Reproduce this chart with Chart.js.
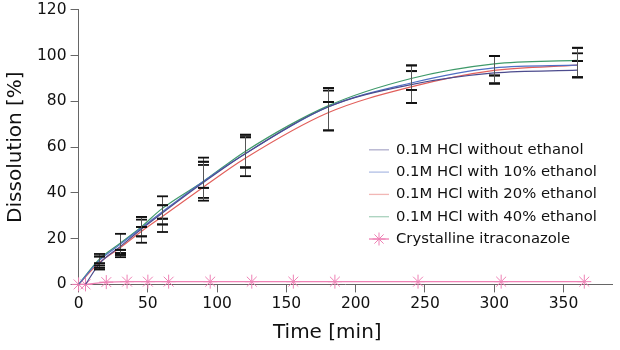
<!DOCTYPE html>
<html>
<head>
<meta charset="utf-8">
<script src="https://cdn.jsdelivr.net/npm/chart.js@4/dist/chart.umd.min.js"></script>
<style>
  html, body { margin: 0; padding: 0; background: #fff; }
  #wrap { width: 620px; height: 350px; }
</style>
</head>
<body>
<div id="wrap"><canvas id="c" width="620" height="350"></canvas></div>
<script>
// ---- data ----
const seriesLabels = [
  "0.1M HCl without ethanol",
  "0.1M HCl with 10% ethanol",
  "0.1M HCl with 20% ethanol",
  "0.1M HCl with 40% ethanol",
  "Crystalline itraconazole"
];
const xTitle = "Time [min]";
const yTitle = "Dissolution [%]";
const timesCurve = [0, 15, 30, 45, 60, 90, 120, 180, 240, 300, 360];
const timesNoEthanol = [5, 15, 30, 45, 60, 90, 120, 180, 240, 300, 360];
const noEthanol   = [0, 9.0, 16.5, 24.0, 31.0, 44.5, 57.0, 77.5, 87.3, 92.4, 93.6];
const ethanol10   = [0, 10.5, 17.5, 24.5, 31.5, 45.0, 57.0, 77.5, 88.0, 94.6, 95.8];
const ethanol20   = [0, 9.5, 16.0, 23.0, 29.5, 42.5, 55.0, 75.0, 86.3, 93.5, 95.8];
const ethanol40   = [0, 11.0, 18.0, 25.0, 33.0, 45.0, 58.0, 78.0, 90.0, 96.4, 97.9];
const timesCrystal = [0, 5, 20, 35, 50, 65, 95, 125, 155, 185, 245, 305, 365];
const crystalline  = [0, 0, 1.0, 1.2, 1.2, 1.2, 1.2, 1.2, 1.2, 1.2, 1.2, 1.2, 1.2];

// error bar bounds (measurement times)
const errTimes = [15, 30, 45, 60, 90, 120, 180, 240, 300, 360];
const noEthanolLow  = [6.5, 12.9, 21.0, 26.2, 37.8, 51.1, 79.7, 85.0, 87.8, 90.5];
const noEthanolHigh = [12.2, 15.1, 28.3, 34.6, 52.2, 64.3, 84.7, 93.2, 91.3, 97.6];
const ethanol10Low  = [7.2, 13.7, 25.1, 28.7, 42.2, 47.3, 67.3, 79.3, 87.8, 90.5];
const ethanol10High = [13.3, 22.1, 29.5, 38.5, 55.4, 65.4, 85.8, 95.7, 99.8, 103.4];
const ethanol20Low  = [8.2, 11.9, 18.2, 22.9, 36.6, 51.1, 67.3, 79.3, 91.3, 97.6];
const ethanol20High = [9.2, 13.7, 25.1, 28.7, 53.6, 64.3, 79.7, 93.2, 99.8, 101.0];
const ethanol40Low  = [9.2, 12.9, 21.0, 26.2, 42.2, 51.1, 79.7, 85.0, 87.8, 90.5];
const ethanol40High = [12.2, 15.1, 29.5, 34.6, 53.6, 65.4, 85.8, 95.7, 99.8, 103.4];

const xTicks = [0, 50, 100, 150, 200, 250, 300, 350];
const yTicks = [0, 20, 40, 60, 80, 100, 120];

// ---- helpers ----
const pts = (xs, ys) => xs.map((x, i) => ({ x: x, y: ys[i] }));
const errorSets = [
  [noEthanolLow, noEthanolHigh],
  [ethanol10Low, ethanol10High],
  [ethanol20Low, ethanol20High],
  [ethanol40Low, ethanol40High]
];
const colors = ["#4d4c8e", "#4f6fc4", "#e2605c", "#3f9a6a", "#ee80b4"];
const FONT = "'DejaVu Sans', Verdana, sans-serif";

const errorBarPlugin = {
  id: 'errorBars',
  afterDatasetsDraw(chart) {
    const ctx = chart.ctx, xs = chart.scales.x, ys = chart.scales.y;
    ctx.save();
    errorSets.forEach(([lo, hi]) => {
      errTimes.forEach((t, i) => {
        const px = Math.round(xs.getPixelForValue(t)) + 0.5;
        const y1 = ys.getPixelForValue(lo[i]);
        const y2 = ys.getPixelForValue(hi[i]);
        ctx.strokeStyle = '#555';
        ctx.lineWidth = 1;
        ctx.beginPath(); ctx.moveTo(px, y1); ctx.lineTo(px, y2); ctx.stroke();
        ctx.strokeStyle = '#111';
        ctx.lineWidth = 1.8;
        [y1, y2].forEach(y => {
          ctx.beginPath(); ctx.moveTo(px - 5.5, y); ctx.lineTo(px + 5.5, y); ctx.stroke();
        });
      });
    });
    ctx.restore();
  }
};

const textPlugin = {
  id: 'textLayer',
  afterDraw(chart) {
    const ctx = chart.ctx, area = chart.chartArea;
    ctx.save();
    // x-axis title (sits slightly left of the axis centre in the reference)
    ctx.font = "20px " + FONT;
    ctx.fillStyle = '#111';
    ctx.textAlign = 'center';
    ctx.textBaseline = 'middle';
    ctx.fillText(xTitle, (area.left + area.right) / 2 - 18, area.bottom + 48);
    // legend
    const x0 = area.right - 243, y0 = area.top + 140, row = 22.3;
    ctx.font = "14.8px " + FONT;
    ctx.textAlign = 'left';
    chart.data.datasets.forEach((ds, i) => {
      const y = y0 + i * row;
      ctx.globalAlpha = i === 4 ? 1 : 0.45;
      ctx.strokeStyle = ds.borderColor;
      ctx.lineWidth = 1.3;
      ctx.beginPath(); ctx.moveTo(x0, y); ctx.lineTo(x0 + 20, y); ctx.stroke();
      if (i === 4) {
        const cx = x0 + 10, r = 6.5;
        ctx.lineWidth = 1;
        ctx.beginPath();
        for (let k = 0; k < 4; k++) {
          const a = k * Math.PI / 4;
          ctx.moveTo(cx - r * Math.sin(a), y - r * Math.cos(a));
          ctx.lineTo(cx + r * Math.sin(a), y + r * Math.cos(a));
        }
        ctx.stroke();
      }
      ctx.globalAlpha = 1;
      ctx.fillStyle = '#111';
      ctx.fillText(ds.label, x0 + 27, y);
    });
    ctx.restore();
  }
};

const lineDs = (label, data, color) => ({
  label, data, borderColor: color, backgroundColor: color,
  borderWidth: 1.2, pointRadius: 0, cubicInterpolationMode: 'monotone', fill: false
});

new Chart(document.getElementById('c'), {
  type: 'line',
  data: {
    datasets: [
      lineDs(seriesLabels[0], pts(timesNoEthanol, noEthanol), colors[0]),
      lineDs(seriesLabels[1], pts(timesCurve, ethanol10), colors[1]),
      lineDs(seriesLabels[2], pts(timesCurve, ethanol20), colors[2]),
      lineDs(seriesLabels[3], pts(timesCurve, ethanol40), colors[3]),
      {
        label: seriesLabels[4], data: pts(timesCrystal, crystalline),
        borderColor: colors[4], backgroundColor: colors[4], borderWidth: 1.4,
        pointStyle: 'star', pointRadius: 7, pointBorderWidth: 1, tension: 0, clip: false
      }
    ]
  },
  options: {
    responsive: false,
    animation: false,
    layout: { padding: { top: 0, right: 5, left: 4, bottom: 3 } },
    plugins: { legend: { display: false }, tooltip: { enabled: false } },
    scales: {
      x: {
        type: 'linear', min: 0, max: 385,
        afterBuildTicks: (s) => { s.ticks = xTicks.map(v => ({ value: v })); },
        grid: { display: true, drawOnChartArea: false, drawTicks: true, tickLength: 8, color: '#666' },
        border: { display: true, color: '#666', width: 1 },
        ticks: { color: '#111', font: { family: FONT, size: 15.5 }, padding: 2, maxRotation: 0 },
        title: { display: true, text: xTitle, color: 'rgba(0,0,0,0)', font: { family: FONT, size: 20 }, padding: { top: 8, bottom: 0 } }
      },
      y: {
        type: 'linear', min: 0, max: 120,
        afterBuildTicks: (s) => { s.ticks = yTicks.map(v => ({ value: v })); },
        grid: { display: true, drawOnChartArea: false, drawTicks: true, tickLength: 8, color: '#666' },
        border: { display: true, color: '#666', width: 1 },
        ticks: { color: '#111', font: { family: FONT, size: 15.5, lineHeight: 0.75 }, padding: 4 },
        title: { display: true, text: yTitle, color: '#111', font: { family: FONT, size: 20 }, padding: { top: 0, bottom: 5 } }
      }
    }
  },
  plugins: [errorBarPlugin, textPlugin]
});
</script>
</body>
</html>
